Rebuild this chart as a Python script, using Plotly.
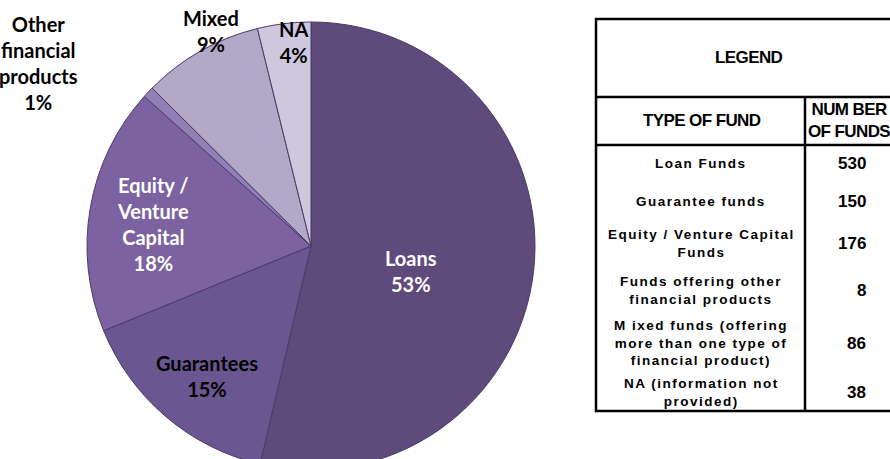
import plotly.graph_objects as go

# ---- data ----
slice_labels = ["Loans", "Guarantees", "Equity /<br>Venture<br>Capital",
                "Other<br>financial<br>products", "Mixed", "NA"]
slice_values = [530, 150, 176, 8, 86, 38]
slice_pct = ["53%", "15%", "18%", "1%", "9%", "4%"]

fund_types = ["Loan Funds", "Guarantee funds", "Equity / Venture Capital<br>Funds",
              "Funds offering other<br>financial products",
              "M ixed funds (offering<br>more than one type of<br>financial product)",
              "NA (information not<br>provided)"]
fund_counts = ["530", "150", "176", "8", "86", "38"]

# ---- styles ----
W, H = 890, 472
colors = ["#5E4A7B", "#6A5690", "#7C62A0", "#9180B6", "#B2A8C8", "#CEC7DD"]
label_colors = ["white", "black", "white", "black", "black", "black"]
label_pos = [(411, 271), (207, 376), (153, 224), (38, 63), (211, 31), (293, 42)]
row_y = [163, 201, 244, 290, 343, 392]


def px(x):
    return x / W


def py(y):
    return 1 - y / H


fig = go.Figure()
fig.add_trace(go.Pie(
    values=slice_values,
    labels=[l.replace("<br>", " ") for l in slice_labels],
    sort=False, direction="clockwise", rotation=0,
    marker=dict(colors=colors, line=dict(color="#4B3A66", width=1)),
    textinfo="none", hoverinfo="label+value+percent",
    domain=dict(x=[px(87), px(535)], y=[py(470), py(22)]),
    showlegend=False,
))

ann = []
for lab, pct, col, (x, y) in zip(slice_labels, slice_pct, label_colors, label_pos):
    ann.append(dict(text="<b>" + lab + "<br>" + pct + "</b>", x=px(x), y=py(y),
                    xref="paper", yref="paper", showarrow=False,
                    font=dict(family="Lato", size=20, color=col),
                    xanchor="center", yanchor="middle"))

# table
tb_l, tb_r, tb_t, tb_b = 596, 905, 19, 411
col_split = 805
shapes = [
    dict(type="rect", x0=px(tb_l), x1=px(tb_r), y0=py(tb_t), y1=py(tb_b),
         xref="paper", yref="paper", line=dict(color="black", width=2.5)),
    dict(type="line", x0=px(tb_l), x1=px(tb_r), y0=py(97), y1=py(97),
         xref="paper", yref="paper", line=dict(color="black", width=2.5)),
    dict(type="line", x0=px(tb_l), x1=px(tb_r), y0=py(145), y1=py(145),
         xref="paper", yref="paper", line=dict(color="black", width=2.5)),
    dict(type="line", x0=px(col_split), x1=px(col_split), y0=py(97), y1=py(tb_b),
         xref="paper", yref="paper", line=dict(color="black", width=2.5)),
]

hdr_font = dict(family="Liberation Sans", size=17, color="black")
ann.append(dict(text='<b><span style="letter-spacing:-0.6px">LEGEND</span></b>',
                x=px(749), y=py(57), xref="paper", yref="paper", showarrow=False,
                font=hdr_font, xanchor="center", yanchor="middle"))
ann.append(dict(text='<b><span style="letter-spacing:-0.6px">TYPE OF FUND</span></b>',
                x=px(702), y=py(121), xref="paper", yref="paper", showarrow=False,
                font=hdr_font, xanchor="center", yanchor="middle"))
ann.append(dict(text='<b><span style="letter-spacing:-0.6px">NUM BER<br>OF FUNDS</span></b>',
                x=px(806), y=py(120), xref="paper", yref="paper", showarrow=False,
                font=hdr_font, xanchor="left", yanchor="middle", align="center"))

for t, n, y in zip(fund_types, fund_counts, row_y):
    ann.append(dict(text='<b><span style="letter-spacing:1.5px">' + t + '</span></b>',
                    x=px(701), y=py(y), xref="paper", yref="paper", showarrow=False,
                    font=dict(family="Liberation Sans", size=13.5, color="black"),
                    xanchor="center", yanchor="middle", align="center"))
    ann.append(dict(text="<b>" + n + "</b>", x=px(868), y=py(y), xref="paper",
                    yref="paper", showarrow=False,
                    font=dict(family="Liberation Sans", size=17, color="black"),
                    xanchor="right", yanchor="middle"))

fig.update_layout(width=W, height=H, margin=dict(l=0, r=0, t=0, b=0),
                  paper_bgcolor="white", plot_bgcolor="white",
                  annotations=ann, shapes=shapes)

fig.write_html("out.html", config={"displayModeBar": False}, post_script=(
    "document.documentElement.style.overflow='hidden';"
    "document.body.style.overflow='hidden';"
    "document.body.style.margin='0';"))
